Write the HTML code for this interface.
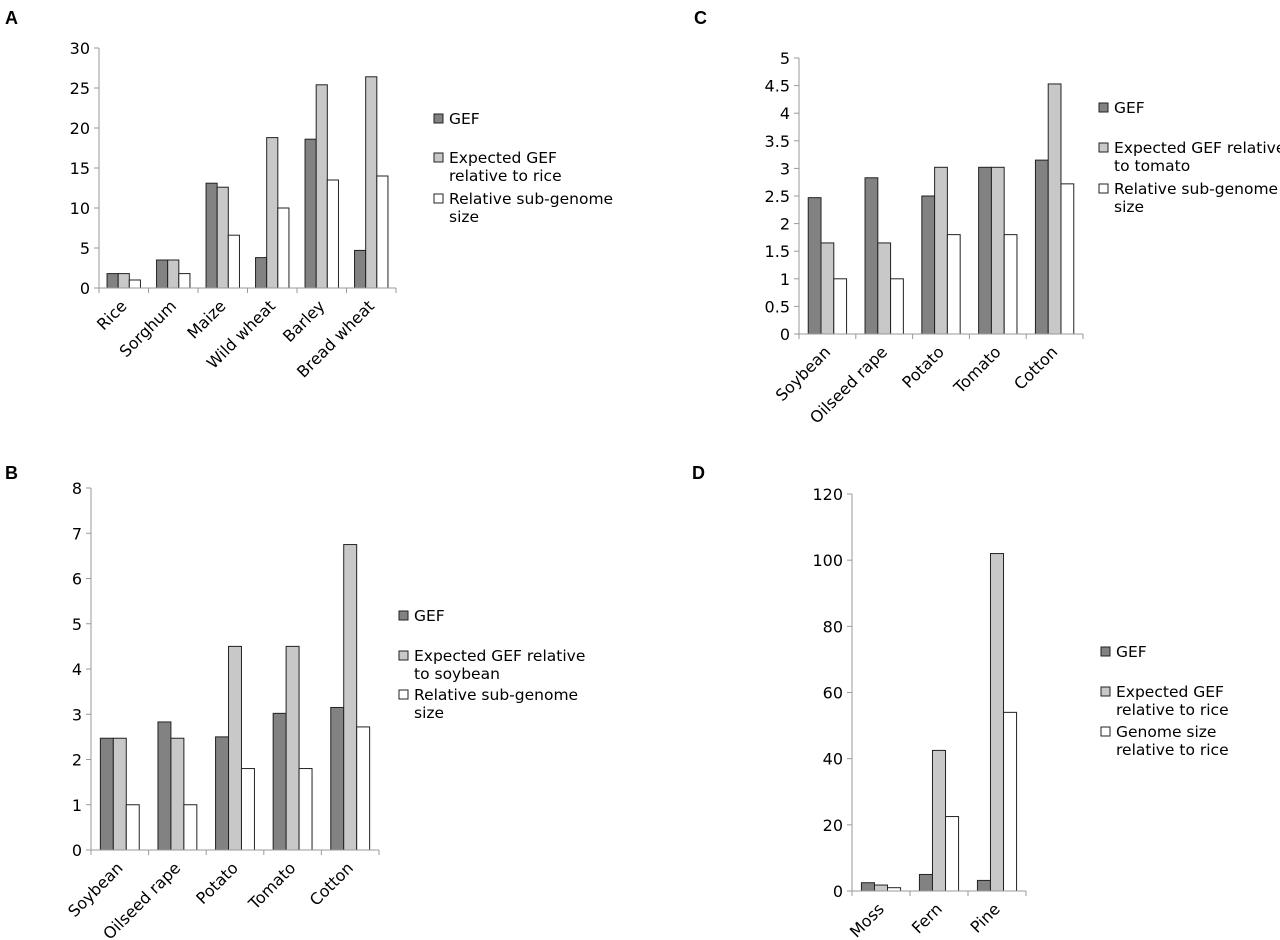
<!DOCTYPE html>
<html><head><meta charset="utf-8"><style>
body{margin:0;background:#fff}
svg{display:block;font-family:"DejaVu Sans","Liberation Sans",sans-serif}
</style></head><body>
<svg id="c" width="1280" height="940" viewBox="0 0 1280 940"></svg>
<script>
const catsA=["Rice","Sorghum","Maize","Wild wheat","Barley","Bread wheat"];
const gefA=[1.8,3.5,13.1,3.8,18.6,4.7];
const expA=[1.8,3.5,12.6,18.8,25.4,26.4];
const relA=[1.0,1.8,6.6,10.0,13.5,14.0];
const ticksA=[0,5,10,15,20,25,30];
const catsB=["Soybean","Oilseed rape","Potato","Tomato","Cotton"];
const gefB=[2.47,2.83,2.5,3.02,3.15];
const expB=[2.47,2.47,4.5,4.5,6.75];
const relB=[1.0,1.0,1.8,1.8,2.72];
const ticksB=[0,1,2,3,4,5,6,7,8];
const catsC=["Soybean","Oilseed rape","Potato","Tomato","Cotton"];
const gefC=[2.47,2.83,2.5,3.02,3.15];
const expC=[1.65,1.65,3.02,3.02,4.53];
const relC=[1.0,1.0,1.8,1.8,2.72];
const ticksC=[0,0.5,1,1.5,2,2.5,3,3.5,4,4.5,5];
const catsD=["Moss","Fern","Pine"];
const gefD=[2.5,5.0,3.2];
const expD=[1.8,42.5,102];
const relD=[1.0,22.5,54];
const ticksD=[0,20,40,60,80,100,120];

const NS="http://www.w3.org/2000/svg";
const svg=document.getElementById('c');
function mk(tag,attrs,parent,txt){const e=document.createElementNS(NS,tag);for(const k in attrs)e.setAttribute(k,attrs[k]);if(txt!==undefined)e.textContent=txt;(parent||svg).appendChild(e);return e;}
const fills=["#828282","#c8c8c8","#ffffff"];
function panel(id,letter,lx,ly,cats,series,ticks,x0,x1,y0,y1,leg,legNames){
  const g=mk('g',{});
  
  
  const t=mk('text',{x:lx,y:ly,'font-size':18,'font-weight':'bold','font-family':'Liberation Sans, sans-serif'},g,letter);
  
  
  const vmax=ticks[ticks.length-1];
  const ys=v=>y0-(v/vmax)*(y0-y1);
  const cw=(x1-x0)/cats.length;
  const ya=mk('line',{x1:x0,y1:y1,x2:x0,y2:y0,stroke:'#999','stroke-width':1},g);
  
  
  ticks.forEach(v=>{
    const y=ys(v);
    mk('line',{x1:x0-5,y1:y,x2:x0,y2:y,stroke:'#999'},g);
    const tl=mk('text',{x:x0-9,y:y+6,'text-anchor':'end','font-size':16},g,String(v));
    
    
  });
  const bw=cw*0.225;
  cats.forEach((c,i)=>{
    const cx=x0+cw*(i+0.5);
    series.forEach((s,j)=>{
      const x=cx-1.5*bw+j*bw, y=ys(s[i]);
      const r=mk('rect',{x:x,y:y,width:bw,height:y0-y,fill:fills[j],stroke:'#222','stroke-width':1},g);
      
      
    });
    const lb=mk('text',{x:cx+4,y:y0+19,'text-anchor':'end','font-size':16,transform:`rotate(-45 ${cx+4} ${y0+19})`},g,c);
    
    
  });
  for(let i=0;i<=cats.length;i++){const x=x0+cw*i;mk('line',{x1:x,y1:y0,x2:x,y2:y0+5,stroke:'#999'},g);}
  const xa=mk('line',{x1:x0,y1:y0,x2:x1,y2:y0,stroke:'#999','stroke-width':1},g);
  
  
  const lg=mk('g',{},g);
  
  
  legNames.forEach((lines,j)=>{
    const ty=leg.ys[j];
    mk('rect',{x:leg.x,y:ty-10,width:9,height:9,fill:fills[j],stroke:'#222'},lg);
    lines.forEach((ln,k)=>{
      const tt=mk('text',{x:leg.x+15,y:ty+k*18,'font-size':15.5},lg,ln);
      
      
    });
  });
}
panel('a','A',5,24,catsA,[gefA,expA,relA],ticksA,99,396,288,48,{x:434,ys:[124,163,204]},
 [["GEF"],["Expected GEF","relative to rice"],["Relative sub-genome","size"]]);
panel('c','C',694,24,catsC,[gefC,expC,relC],ticksC,799,1083,334,58,{x:1099,ys:[113,153,194]},
 [["GEF"],["Expected GEF relative","to tomato"],["Relative sub-genome","size"]]);
panel('b','B',5,479,catsB,[gefB,expB,relB],ticksB,91,379,850,488,{x:399,ys:[621,661,700]},
 [["GEF"],["Expected GEF relative","to soybean"],["Relative sub-genome","size"]]);
panel('d','D',692,479,catsD,[gefD,expD,relD],ticksD,852,1026,891,494,{x:1101,ys:[657,697,737]},
 [["GEF"],["Expected GEF","relative to rice"],["Genome size","relative to rice"]]);
</script>
</body></html>
